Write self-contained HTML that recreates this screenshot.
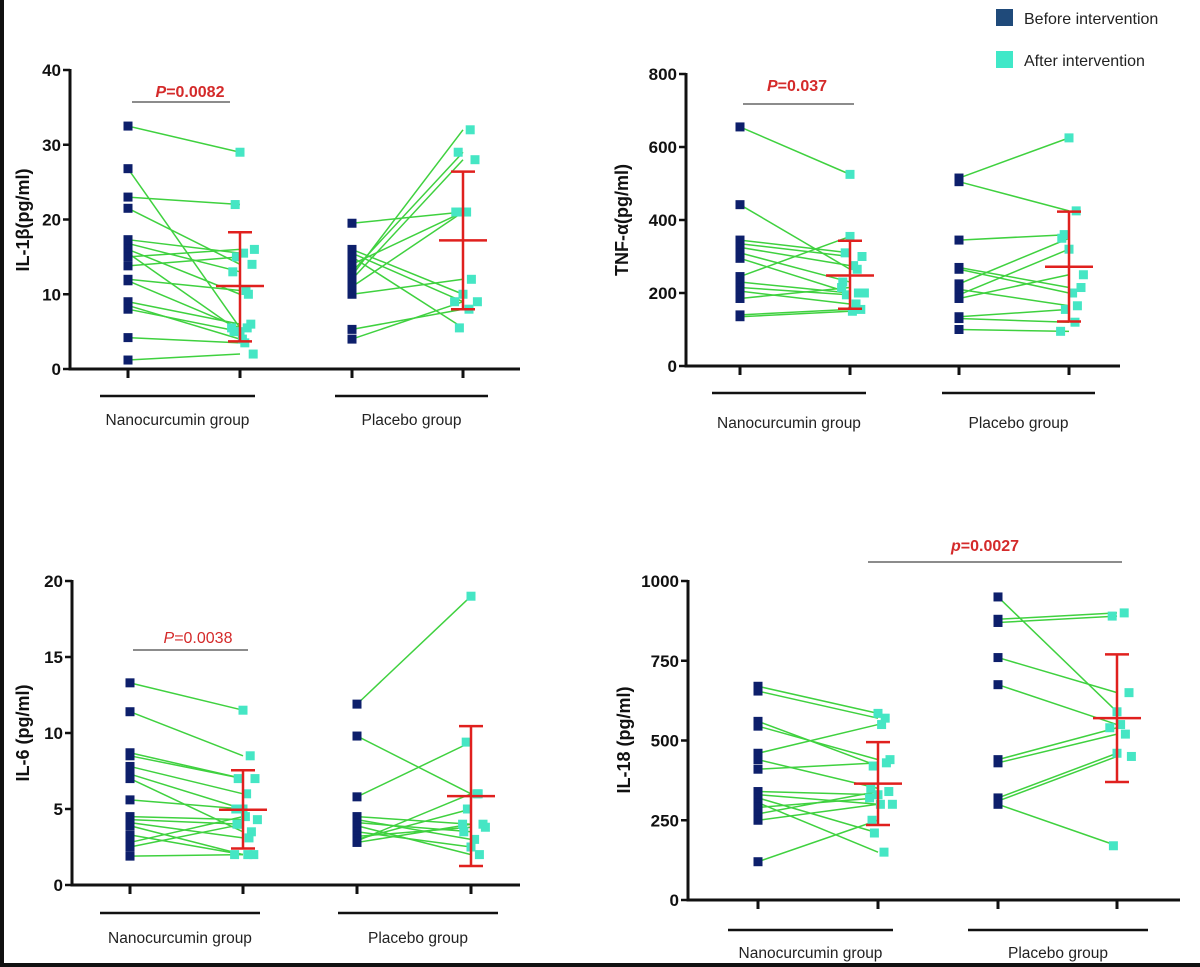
<!DOCTYPE html>
<html><head><meta charset="utf-8"><style>
body{margin:0;background:#fff;}
svg{display:block;font-family:"Liberation Sans",Arial,sans-serif;}
</style></head><body>
<svg id="chart" width="1200" height="967" viewBox="0 0 1200 967">
<rect x="0" y="0" width="1200" height="967" fill="#fff"/>
<rect x="0" y="0" width="4" height="967" fill="#111"/>
<rect x="0" y="963" width="1200" height="4" fill="#111"/>
<g>
<rect x="996" y="9" width="17" height="17" fill="#1f4a7a"/>
<text x="1024" y="24" font-size="16" fill="#222">Before intervention</text>
<rect x="996" y="51" width="17" height="17" fill="#40e8c8"/>
<text x="1024" y="66" font-size="16" fill="#222">After intervention</text>
</g>
</svg>
<script>
// ---- data ----
const groupLabels = ["Nanocurcumin group","Placebo group"];
const il1NanoBefore = [32.5,26.8,23,21.5,17.3,16.8,16,15.5,15,13.8,12,11.8,9,8.5,8,4.2,1.2];
const il1NanoAfter  = [29,5.5,22,14,15.5,13,10,5,16,15,10.5,5.5,6,4,5,3.5,2];
const il1PlacBefore = [19.5,12.5,13,12,14,11,10,16,15.5,15,5.3,4];
const il1PlacAfter  = [21,32,29,28,21,21,12,10,9,5.5,8,9];
const il1Stats = [[11.1,3.7,18.3],[17.2,8,26.4]];
const il1Ticks = [0,10,20,30,40];

const tnfNanoBefore = [655,442,345,335,325,310,295,245,230,215,205,185,140,135];
const tnfNanoAfter  = [525,265,310,300,275,230,200,355,200,195,170,215,155,150];
const tnfPlacBefore = [515,505,345,270,265,225,210,195,185,135,130,100];
const tnfPlacAfter  = [625,425,360,215,200,350,165,320,250,155,120,95];
const tnfStats = [[248,157,343],[272,122,423]];
const tnfTicks = [0,200,400,600,800];

const il6NanoBefore = [13.3,11.4,8.7,8.5,7.8,7.3,7.0,5.6,4.5,4.3,4.1,3.9,3.3,2.8,2.5,1.9];
const il6NanoAfter  = [11.5,8.5,7,7,6,5,3.5,5,4.3,4,3.1,2,2,4.5,4,2];
const il6PlacBefore = [11.9,9.8,5.8,4.5,4.3,4.1,3.9,3.5,3.2,3.0,2.9,2.8];
const il6PlacAfter  = [19,6,9.4,4,3,3.5,2,2.5,3.8,5,6,4];
const il6Stats = [[4.95,2.4,7.55],[5.85,1.25,10.45]];
const il6Ticks = [0,5,10,15,20];

const il18NanoBefore = [670,655,560,545,460,440,410,340,330,320,305,290,270,250,120];
const il18NanoAfter  = [585,570,420,440,550,350,430,330,300,210,150,320,340,300,250];
const il18PlacBefore = [950,880,870,760,675,440,430,320,310,300];
const il18PlacAfter  = [590,900,890,650,550,540,520,460,450,170];
const il18Stats = [[365,235,495],[570,370,770]];
const il18Ticks = [0,250,500,750,1000];

const NS="http://www.w3.org/2000/svg";
const svg=document.getElementById('chart');
function mk(tag,attrs,parent){const e=document.createElementNS(NS,tag);for(const k in attrs)e.setAttribute(k,attrs[k]);(parent||svg).appendChild(e);return e;}
const jit=[0,12,-8,20,6,-12,14,0,24,-6,10,-14,18,4,-10,8,22];

function panel(c){
  const g=mk('g',{});
  
  
  const y=v=>c.y0-(v/c.max)*(c.y0-c.yTop);
  const sets=[[c.nb,c.na,0],[c.pb,c.pa,2]];
  sets.forEach(([b,a,ci])=>{
    b.forEach((v,i)=>{
      const l=mk('line',{x1:c.cats[ci],y1:y(v),x2:c.cats[ci+1],y2:y(a[i]),stroke:'#3fd13f','stroke-width':1.5},g);
      
      
    });
  });
  sets.forEach(([b,a,ci])=>{
    b.forEach((v,i)=>{
      const r=mk('rect',{x:c.cats[ci]-4.5,y:y(v)-4.5,width:9,height:9,fill:'#0d1f6b'},g);
      
      
    });
    a.forEach((v,i)=>{
      const r=mk('rect',{x:c.cats[ci+1]-4.5+jit[i%jit.length]*0.6,y:y(v)-4.5,width:9,height:9,fill:'#45e6c4'},g);
      
      
    });
  });
  c.stats.forEach((s,k)=>{
    const cx=c.cats[k*2+1];
    const eg=mk('g',{stroke:'#e0201e','stroke-width':2.5},g);
    
    
    mk('line',{x1:cx,y1:y(s[1]),x2:cx,y2:y(s[2])},eg);
    mk('line',{x1:cx-12,y1:y(s[1]),x2:cx+12,y2:y(s[1])},eg);
    mk('line',{x1:cx-12,y1:y(s[2]),x2:cx+12,y2:y(s[2])},eg);
    mk('line',{x1:cx-24,y1:y(s[0]),x2:cx+24,y2:y(s[0])},eg);
  });
  const ax=mk('line',{x1:c.ax,y1:c.yTop-1,x2:c.ax,y2:c.y0+1.5,stroke:'#111','stroke-width':3},g);
  
  
  const xa=mk('line',{x1:c.ax,y1:c.y0,x2:c.right,y2:c.y0,stroke:'#111','stroke-width':3},g);
  
  
  c.ticks.forEach(t=>{
    mk('line',{x1:c.ax-7,y1:y(t),x2:c.ax,y2:y(t),stroke:'#111','stroke-width':2.5},g);
    const tx=mk('text',{x:c.ax-9,y:y(t)+6,'text-anchor':'end','font-size':17,'font-weight':'bold',fill:'#111'},g);
    tx.textContent=t;
    
    
  });
  c.cats.forEach(x=>mk('line',{x1:x,y1:c.y0,x2:x,y2:c.y0+9,stroke:'#111','stroke-width':3},g));
  c.groups.forEach((gr,k)=>{
    const l=mk('line',{x1:gr[0],y1:c.gy,x2:gr[1],y2:c.gy,stroke:'#111','stroke-width':2.5},g);
    
    
    const t=mk('text',{x:(gr[0]+gr[1])/2,y:c.ly,'text-anchor':'middle','font-size':15.5,fill:'#222'},g);
    t.textContent=groupLabels[k];
    
    
  });
  const yl=mk('text',{x:0,y:0,transform:`translate(${c.ylx},${c.yly}) rotate(-90)`,'text-anchor':'middle','font-size':18,'font-weight':'bold',fill:'#111'},g);
  yl.textContent=c.ylabel;
  
  
  const pl=mk('line',{x1:c.pl[0],y1:c.pl[2],x2:c.pl[1],y2:c.pl[2],stroke:'#666','stroke-width':1.5},g);
  
  
  const pt=mk('text',{x:c.pt[0],y:c.pt[1],'text-anchor':'middle','font-size':16,'font-weight':c.pbold?'bold':'normal',fill:'#d42a2a'},g);
  const it=mk('tspan',{'font-style':'italic'},pt);it.textContent=c.pletter;
  const rest=mk('tspan',{},pt);rest.textContent=c.pval;
  
  
}

panel({name:'il-1b',ax:70,y0:369,yTop:70,max:40,ticks:il1Ticks,right:520,cats:[128,240,352,463],
  nb:il1NanoBefore,na:il1NanoAfter,pb:il1PlacBefore,pa:il1PlacAfter,stats:il1Stats,
  groups:[[100,255],[335,488]],gy:396,ly:425,ylabel:'IL-1β(pg/ml)',ylx:29,yly:220,
  pl:[132,230,102],pt:[190,97],pletter:'P',pval:'=0.0082',pbold:true});
panel({name:'tnf-a',ax:686,y0:366,yTop:74,max:800,ticks:tnfTicks,right:1120,cats:[740,850,959,1069],
  nb:tnfNanoBefore,na:tnfNanoAfter,pb:tnfPlacBefore,pa:tnfPlacAfter,stats:tnfStats,
  groups:[[712,866],[942,1095]],gy:393,ly:428,ylabel:'TNF-α(pg/ml)',ylx:628,yly:220,
  pl:[743,854,104],pt:[797,91],pletter:'P',pval:'=0.037',pbold:true});
panel({name:'il-6',ax:72,y0:885,yTop:581,max:20,ticks:il6Ticks,right:520,cats:[130,243,357,471],
  nb:il6NanoBefore,na:il6NanoAfter,pb:il6PlacBefore,pa:il6PlacAfter,stats:il6Stats,
  groups:[[100,260],[338,498]],gy:913,ly:943,ylabel:'IL-6 (pg/ml)',ylx:29,yly:733,
  pl:[133,248,650],pt:[198,643],pletter:'P',pval:'=0.0038',pbold:false});
panel({name:'il-18',ax:688,y0:900,yTop:581,max:1000,ticks:il18Ticks,right:1180,cats:[758,878,998,1117],
  nb:il18NanoBefore,na:il18NanoAfter,pb:il18PlacBefore,pa:il18PlacAfter,stats:il18Stats,
  groups:[[728,893],[968,1148]],gy:930,ly:958,ylabel:'IL-18 (pg/ml)',ylx:630,yly:740,
  pl:[868,1122,562],pt:[985,551],pletter:'p',pval:'=0.0027',pbold:true});
</script>
</body></html>
